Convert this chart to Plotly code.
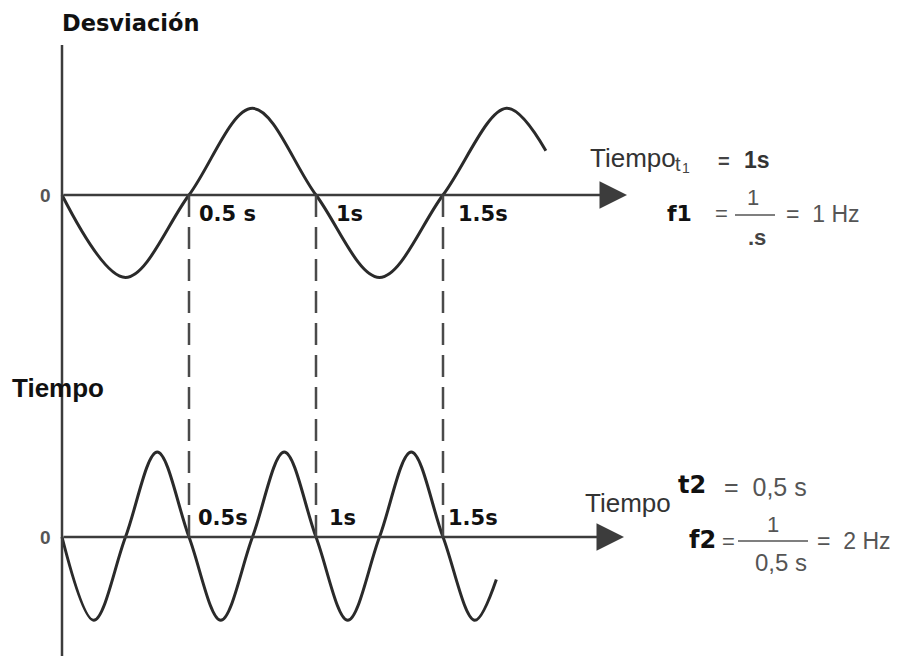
import plotly.graph_objects as go

# ---- data -------------------------------------------------------------
# Upper wave (f1 = 1 Hz): zero crossings and extremes, time in seconds
wave1_t = [0.0, 0.25, 0.5, 0.75, 1.0, 1.25, 1.5, 1.75, 1.905]
wave1_v = [0.0, -0.97, 0.0, 1.02, 0.0, -0.97, 0.0, 1.02, 0.52]

# Lower wave (f2 = 2 Hz)
wave2_t = [0.0, 0.125, 0.25, 0.375, 0.5, 0.625, 0.75, 0.875, 1.0,
           1.125, 1.25, 1.375, 1.5, 1.625, 1.71]
wave2_v = [0.0, -0.98, 0.0, 1.0, 0.0, -0.98, 0.0, 1.0, 0.0,
           -0.98, 0.0, 1.0, 0.0, -0.98, -0.5]

# Marked instants (dashed guides) and their labels
mark_t = [0.5, 1.0, 1.5]
labels_top = ["0.5 s", "1s", "1.5s"]
labels_bottom = ["0.5s", "1s", "1.5s"]

# ---- geometry ---------------------------------------------------------
W, H = 901, 656
X_ORIGIN = 62          # pixel column of t = 0
PX_PER_S = 254         # horizontal scale
PX_PER_UNIT = 85       # vertical scale (amplitude 1)
Y_TOP_AXIS = 195       # pixel row of the upper zero line
Y_BOT_AXIS = 537       # pixel row of the lower zero line

x_range = [-X_ORIGIN / PX_PER_S, (W - X_ORIGIN) / PX_PER_S]
y1_range = [(Y_TOP_AXIS - H) / PX_PER_UNIT, Y_TOP_AXIS / PX_PER_UNIT]
y2_range = [(Y_BOT_AXIS - H) / PX_PER_UNIT, Y_BOT_AXIS / PX_PER_UNIT]


def px(x):
    return x / W


def py(y):
    return 1 - y / H


WAVE_COLOR = "#2a2a2a"
AXIS_COLOR = "#3c3c3c"
BOLD = "DejaVu Sans"
SANS = "Liberation Sans"
NB = "\u00a0"

fig = go.Figure()
fig.add_trace(go.Scatter(
    x=wave1_t, y=wave1_v, mode="lines", xaxis="x", yaxis="y",
    line=dict(color=WAVE_COLOR, width=3, shape="spline", smoothing=1.0),
    hoverinfo="skip", showlegend=False))
fig.add_trace(go.Scatter(
    x=wave2_t, y=wave2_v, mode="lines", xaxis="x", yaxis="y2",
    line=dict(color=WAVE_COLOR, width=3, shape="spline", smoothing=1.0),
    hoverinfo="skip", showlegend=False))

shapes = []
# vertical axis
shapes.append(dict(type="line", xref="x", yref="paper", x0=0, x1=0,
                   y0=0, y1=py(45), line=dict(color=AXIS_COLOR, width=2.5)))
# dashed guides from the upper zero line down to the lower one
for t in mark_t:
    shapes.append(dict(type="line", xref="x", yref="paper", x0=t, x1=t,
                       y0=py(Y_BOT_AXIS), y1=py(Y_TOP_AXIS),
                       line=dict(color="#4a4a4a", width=2.5, dash="22px,10px")))
# fraction bars
shapes.append(dict(type="line", xref="paper", yref="paper",
                   x0=px(735), x1=px(775), y0=py(215), y1=py(215),
                   line=dict(color="#555", width=1.5)))
shapes.append(dict(type="line", xref="paper", yref="paper",
                   x0=px(738), x1=px(808), y0=py(541), y1=py(541),
                   line=dict(color="#555", width=1.5)))

ann = []
# horizontal axes with arrowheads
ann.append(dict(x=(627 - X_ORIGIN) / PX_PER_S, y=0, xref="x", yref="y",
                ax=0, ay=0, axref="x", ayref="y", text="", showarrow=True,
                arrowhead=2, arrowsize=2.2, arrowwidth=2.5,
                arrowcolor=AXIS_COLOR))
ann.append(dict(x=(624 - X_ORIGIN) / PX_PER_S, y=0, xref="x", yref="y2",
                ax=0, ay=0, axref="x", ayref="y2", text="", showarrow=True,
                arrowhead=2, arrowsize=2.2, arrowwidth=2.5,
                arrowcolor=AXIS_COLOR))

# instant labels on both zero lines
top_shift = [8, 18, 13]
bot_shift = [7, 11, 3]
for t, lab, s in zip(mark_t, labels_top, top_shift):
    ann.append(dict(x=t, y=0, xref="x", yref="y", text=lab, showarrow=False,
                    xanchor="left", yanchor="middle", xshift=s, yshift=-19,
                    font=dict(family=BOLD, size=21, color="#111", weight="bold")))
for t, lab, s in zip(mark_t, labels_bottom, bot_shift):
    ann.append(dict(x=t, y=0, xref="x", yref="y2", text=lab, showarrow=False,
                    xanchor="left", yanchor="middle", xshift=s, yshift=19,
                    font=dict(family=BOLD, size=21, color="#111", weight="bold")))


def text(s, x, y, size, family=SANS, color="#444", bold=False, anchor="left"):
    ann.append(dict(x=px(x), y=py(y), xref="paper", yref="paper", text=s,
                    showarrow=False, xanchor=anchor, yanchor="middle",
                    font=dict(family=family, size=size, color=color,
                              weight="bold" if bold else "normal")))


# axis titles and zero marks
text("Desviación", 60, 23, 22.5, BOLD, "#111", True)
text("Tiempo", 10, 388, 26, SANS, "#111", True)
text("0", 38, Y_TOP_AXIS, 19, SANS, "#555", True)
text("0", 38, Y_BOT_AXIS, 19, SANS, "#555", True)

# upper annotations: period and frequency
text("Tiempo", 588, 158, 26, SANS, "#333")
text("t", 673, 164, 20, SANS, "#444")
text("1", 680, 168, 14, SANS, "#444")
text("=", 716, 161, 20, SANS, "#444", True)
text("1s", 742, 160, 23, SANS, "#333", True)
text("f1", 665, 213, 22, BOLD, "#111", True)
text("=", 713, 214, 22, SANS, "#555")
text("1", 753, 197, 22, SANS, "#555", anchor="center")
text(".s", 757, 237, 22, SANS, "#444", True, anchor="center")
text(f"={NB}{NB}1{NB}Hz", 784, 214, 23, SANS, "#555")

# lower annotations: period and frequency
text("t2", 676, 485, 24, BOLD, "#111", True)
text(f"={NB}{NB}0,5{NB}s", 722, 487, 25, SANS, "#555")
text("Tiempo", 583, 503, 26, SANS, "#333")
text("f2", 687, 540, 24, BOLD, "#111", True)
text("=", 720, 541, 22, SANS, "#555")
text("1", 773, 524, 22, SANS, "#555", anchor="center")
text(f"0,5{NB}s", 781, 562, 24, SANS, "#555", anchor="center")
text(f"={NB}{NB}2{NB}Hz", 815, 541, 23, SANS, "#555")

hidden = dict(visible=False, showgrid=False, zeroline=False, fixedrange=True)
fig.update_layout(
    width=W, height=H,
    margin=dict(l=0, r=0, t=0, b=0),
    paper_bgcolor="white", plot_bgcolor="white",
    xaxis=dict(range=x_range, **hidden),
    yaxis=dict(range=y1_range, **hidden),
    yaxis2=dict(range=y2_range, overlaying="y", **hidden),
    shapes=shapes, annotations=ann,
)

fig.write_html("out.html")
